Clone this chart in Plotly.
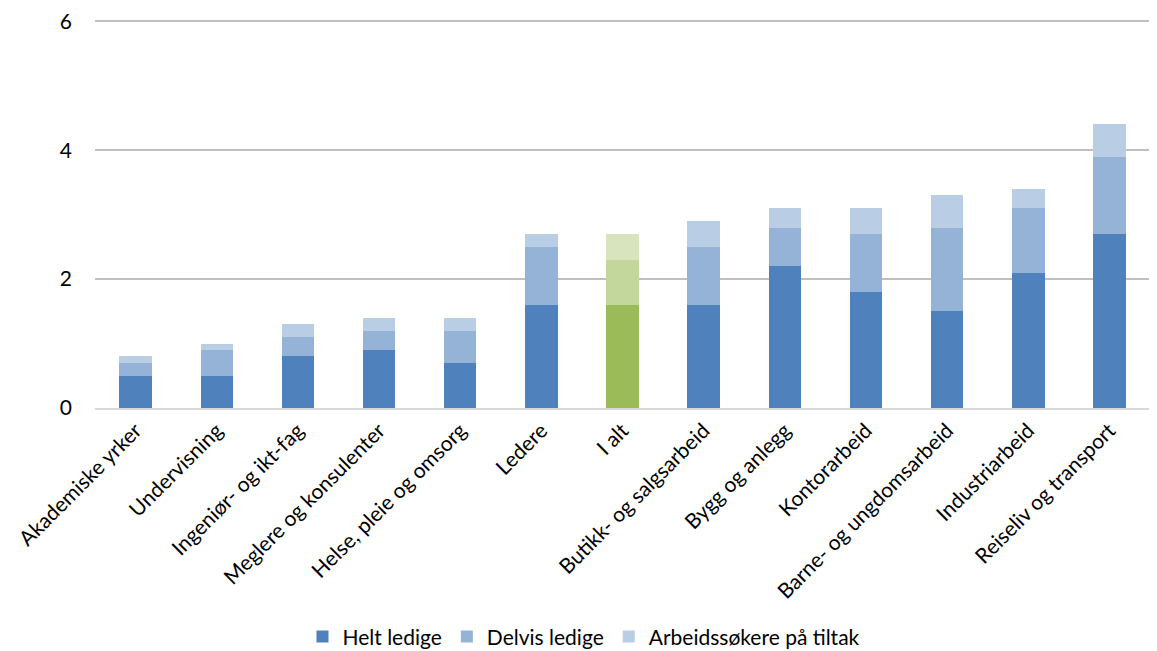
import plotly.graph_objects as go

categories = ["Akademiske yrker", "Undervisning", "Ingeniør- og ikt-fag", "Meglere og konsulenter",
              "Helse, pleie og omsorg", "Ledere", "I alt", "Butikk- og salgsarbeid", "Bygg og anlegg",
              "Kontorarbeid", "Barne- og ungdomsarbeid", "Industriarbeid", "Reiseliv og transport"]
helt = [0.5, 0.5, 0.8, 0.9, 0.7, 1.6, 1.6, 1.6, 2.2, 1.8, 1.5, 2.1, 2.7]
delvis = [0.2, 0.4, 0.3, 0.3, 0.5, 0.9, 0.7, 0.9, 0.6, 0.9, 1.3, 1.0, 1.2]
tiltak = [0.1, 0.1, 0.2, 0.2, 0.2, 0.2, 0.4, 0.4, 0.3, 0.4, 0.5, 0.3, 0.5]

blue = ["#4F81BD", "#95B3D7", "#B9CDE5"]
green = ["#9BBB59", "#C3D69B", "#D7E4BD"]
names = ["Helt ledige", "Delvis ledige", "Arbeidssøkere på tiltak"]

fig = go.Figure()
for i, (name, vals) in enumerate(zip(names, [helt, delvis, tiltak])):
    colors = [green[i] if c == "I alt" else blue[i] for c in categories]
    fig.add_trace(go.Bar(x=categories, y=vals, name=name, marker=dict(color=colors, line=dict(width=0))))

fig.update_layout(
    barmode="stack", bargap=0.6,
    width=1149, height=643,
    paper_bgcolor="white", plot_bgcolor="white",
    font=dict(family="Lato, Open Sans, sans-serif", size=21, color="#000"),
    margin=dict(l=87, r=7, t=10, b=243, autoexpand=False),
    legend=dict(orientation="h", x=0.4635, xanchor="center", y=-0.587, yanchor="middle",
                font=dict(size=21), traceorder="normal"),
    showlegend=True,
)
fig.update_xaxes(tickangle=-45, showgrid=False, showline=True, linecolor="#d9d9d9", linewidth=2,
                 ticks="", automargin=False)
fig.update_yaxes(range=[0, 6.05], tickvals=[0, 2, 4, 6], showgrid=True, gridcolor="#bfbfbf", gridwidth=1.5,
                 zeroline=False, ticks="", ticklabelstandoff=22, automargin=False,
                 ticklabeloverflow="allow")
fig.write_html("out.html")
